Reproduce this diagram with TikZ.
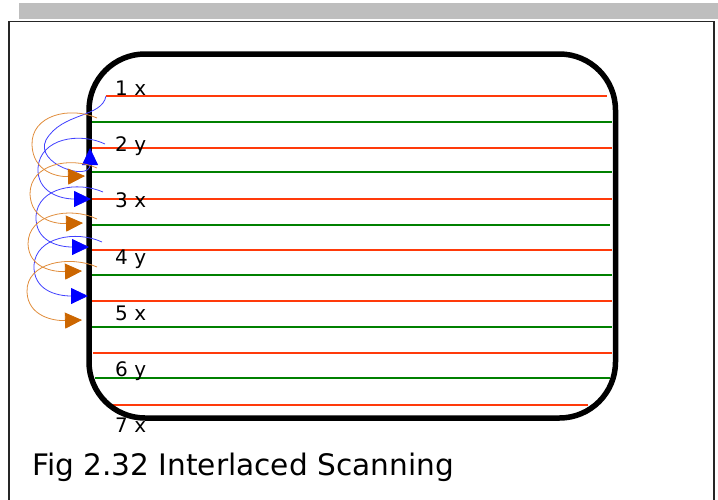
\documentclass[tikz,border=0pt]{standalone}
\usepackage{fontspec}
\setmainfont{DejaVu Sans}
\usetikzlibrary{arrows.meta}
\definecolor{scanred}{HTML}{FF3A0A}
\definecolor{scangreen}{HTML}{008000}
\definecolor{bluecurve}{HTML}{4040FF}
\definecolor{bluehead}{HTML}{0000FF}
\definecolor{orangecurve}{HTML}{E08C3A}
\definecolor{orangehead}{HTML}{CC6600}
\definecolor{bargray}{HTML}{BEBEBE}
\begin{document}
\begin{tikzpicture}[x=1pt,y=-1pt,
  redline/.style={draw=scanred,line width=2.7pt},
  greenline/.style={draw=scangreen,line width=2.7pt},
  rowlabel/.style={anchor=base west,inner sep=0pt,font=\fontsize{20}{24}\selectfont},
  bluearc/.style={draw=bluecurve,line width=0.8pt,-{Triangle[length=17pt,width=16pt,color=bluehead]}},
  orangearc/.style={draw=orangecurve,line width=0.8pt,-{Triangle[length=17pt,width=16pt,color=orangehead]}},
  screen/.style={draw=black,line width=5.5pt,rounded corners=56pt}
]
\useasboundingbox (0,0) rectangle (718,499);
\clip (0,0) rectangle (718,499);
% page decorations
\fill[bargray] (19,3) rectangle (718,19);
\draw[line width=1.7pt,draw=black!85] (9,21.5) rectangle (714,520);

% scan lines
\draw[redline] (106,96) -- (607,96);
\draw[greenline] (90,122) -- (612,122);
\draw[redline] (90,148) -- (612,148);
\draw[greenline] (90,172) -- (612,172);
\draw[redline] (90,199) -- (612,199);
\draw[greenline] (90,225) -- (610,225);
\draw[redline] (90,250) -- (612,250);
\draw[greenline] (90,275) -- (612,275);
\draw[redline] (90,301) -- (612,301);
\draw[greenline] (90,327) -- (612,327);
\draw[redline] (93,353) -- (612,353);
\draw[greenline] (95,378) -- (610,378);
\draw[redline] (106,405) -- (588,405);

% row labels
\node[rowlabel] (l1) at (115,95) {1 x};
\node[rowlabel] (l2) at (115,151.5) {2 y};
\node[rowlabel] (l3) at (115,207.5) {3 x};
\node[rowlabel] (l4) at (115,264) {4 y};
\node[rowlabel] (l5) at (115,320) {5 x};
\node[rowlabel] (l6) at (115,376.5) {6 y};
\node[rowlabel] (l7) at (115,432.5) {7 x};

% screen outline
\draw[screen] (89,54) rectangle (615.5,418);

% caption
\node[anchor=base west,inner sep=0pt,font=\fontsize{29.6}{34}\selectfont] (cap) at (32,475) {Fig 2.32 Interlaced Scanning};

% retrace coordinates
\coordinate (bs1) at (106,96);  \coordinate (bt1) at (90,148);
\coordinate (bs2) at (105,144); \coordinate (bt2) at (91,199);
\coordinate (bs3) at (103,192); \coordinate (bt3) at (89,247);
\coordinate (bs4) at (102,242); \coordinate (bt4) at (88,296);
\coordinate (os1) at (97,118);  \coordinate (ot1) at (85,176);
\coordinate (os2) at (97,168);  \coordinate (ot2) at (83,223);
\coordinate (os3) at (97,219);  \coordinate (ot3) at (82,271);
\coordinate (os4) at (97,267);  \coordinate (ot4) at (82,320);

% blue retraces
\draw[bluearc] (bs1) .. controls (102,118) and (62,112) .. (46,140)
  .. controls (34,164) and (90,182) .. (bt1);
\draw[bluearc] (bs2) .. controls (80,132) and (40,138) .. (38,168)
  .. controls (37,192) and (60,199) .. (bt2);
\draw[bluearc] (bs3) .. controls (78,181) and (38,187) .. (36,216)
  .. controls (35,241) and (58,247) .. (bt3);
\draw[bluearc] (bs4) .. controls (76,230) and (36,237) .. (34,265)
  .. controls (33,290) and (56,296) .. (bt4);

% orange retraces
\draw[orangearc] (os1) .. controls (70,106) and (31,115) .. (32,145)
  .. controls (33,171) and (56,177) .. (ot1);
\draw[orangearc] (os2) .. controls (70,156) and (30,164) .. (30,194)
  .. controls (31,219) and (54,224) .. (ot2);
\draw[orangearc] (os3) .. controls (70,206) and (28,214) .. (28,244)
  .. controls (29,268) and (53,272) .. (ot3);
\draw[orangearc] (os4) .. controls (70,255) and (26,262) .. (27,292)
  .. controls (28,316) and (53,321) .. (ot4);
\end{tikzpicture}
\end{document}
